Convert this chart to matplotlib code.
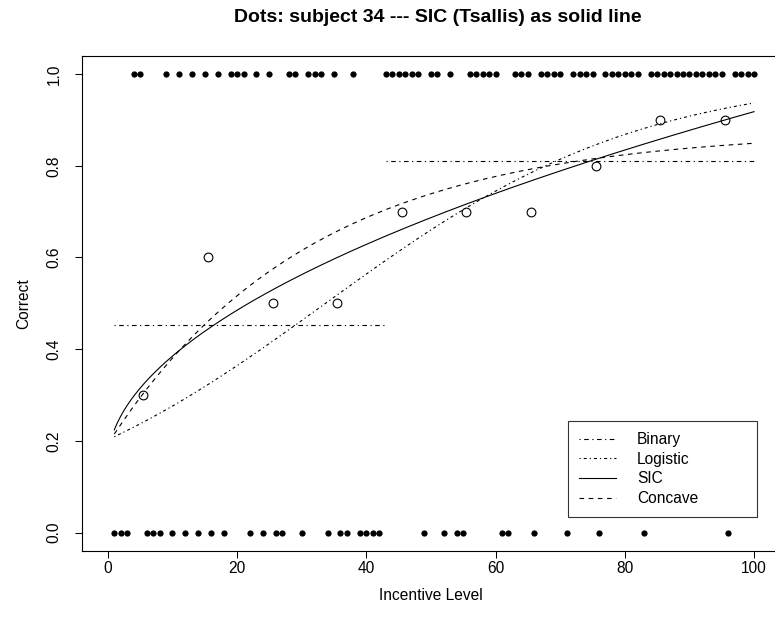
import matplotlib
matplotlib.use("Agg")
import matplotlib.pyplot as plt
import numpy as np

plt.rcParams['font.family'] = ['Liberation Sans', 'DejaVu Sans']
plt.rcParams['lines.scale_dashes'] = False

# Trial-by-trial responses (1 = correct) for incentive levels 1..100
incentive = np.arange(1, 101)
response = [
    0, 0, 0, 1, 1, 0, 0, 0, 1, 0,
    1, 0, 1, 0, 1, 0, 1, 0, 1, 1,
    1, 0, 1, 0, 1, 0, 0, 1, 1, 0,
    1, 1, 1, 0, 1, 0, 0, 1, 0, 0,
    0, 0, 1, 1, 1, 1, 1, 1, 0, 1,
    1, 0, 1, 0, 0, 1, 1, 1, 1, 1,
    0, 0, 1, 1, 1, 0, 1, 1, 1, 1,
    0, 1, 1, 1, 1, 0, 1, 1, 1, 1,
    1, 1, 0, 1, 1, 1, 1, 1, 1, 1,
    1, 1, 1, 1, 1, 0, 1, 1, 1, 1,
]

# Proportion correct in blocks of ten incentive levels
bin_centers = [5.5, 15.5, 25.5, 35.5, 45.5, 55.5, 65.5, 75.5, 85.5, 95.5]
bin_means = [0.3, 0.6, 0.5, 0.5, 0.7, 0.7, 0.7, 0.8, 0.9, 0.9]

# Model parameters
binary_threshold = 43
logistic_a, logistic_b = -1.371, 0.0407
sic_a, sic_b, sic_c = 0.1544, 0.06964, 0.52
concave_A, concave_B, concave_k = 0.8769, 0.6834, 0.032

resp = np.array(response)
x = np.linspace(1, 100, 400)
low = incentive < binary_threshold
binary_low = resp[low].mean()
binary_high = resp[~low].mean()
logistic = 1.0 / (1.0 + np.exp(-(logistic_a + logistic_b * x)))
sic = sic_a + sic_b * x ** sic_c
concave = concave_A - concave_B * np.exp(-concave_k * x)

W, H = 775, 629
fig = plt.figure(figsize=(W / 100, H / 100), dpi=100)
px_left, px_right, px_top, px_bottom = 82, 779.9, 55.7, 551
ax = fig.add_axes([px_left / W, 1 - px_bottom / H,
                   (px_right - px_left) / W, (px_bottom - px_top) / H])

lw = 0.8
pt = 0.72
ax.plot(incentive, resp, 'o', color='black', ms=4.5, mew=0, clip_on=False)
ax.plot(bin_centers, bin_means, 'o', mfc='none', mec='black', ms=6.3, mew=0.8)

binary_dash = (0, (1.2 * pt, 3.5 * pt, 4.6 * pt, 3.5 * pt))
logistic_dash = (0, (1.2 * pt, 3 * pt, 3 * pt, 3 * pt))
concave_dash = (0, (4.6 * pt, 4.6 * pt))

ax.plot([1, binary_threshold], [binary_low, binary_low], color='black', lw=lw,
        linestyle=binary_dash, label='Binary')
ax.plot([binary_threshold, 100], [binary_high, binary_high], color='black', lw=lw,
        linestyle=binary_dash)
ax.plot(x, logistic, color='black', lw=lw, linestyle=logistic_dash, label='Logistic')
ax.plot(x, sic, color='black', lw=lw, linestyle='-', label='SIC')
ax.plot(x, concave, color='black', lw=lw, linestyle=concave_dash, label='Concave')

ax.set_xlim(-4, 104)
ax.set_ylim(-0.04, 1.04)
ax.set_xticks([0, 20, 40, 60, 80, 100])
ax.set_yticks([0.0, 0.2, 0.4, 0.6, 0.8, 1.0])
ax.set_yticklabels(['0.0', '0.2', '0.4', '0.6', '0.8', '1.0'], rotation=90, va='center')
ax.tick_params(direction='out', length=5, width=0.75, labelsize=11.2, colors='black')
ax.tick_params(axis='x', pad=2.5)
ax.tick_params(axis='y', pad=9.5)
for s in ax.spines.values():
    s.set_linewidth(0.8)

ax.set_xlabel('Incentive Level', fontsize=11.2, labelpad=8)
ax.set_ylabel('Correct', fontsize=11.2, labelpad=11.5)
fig.text(438 / W, 1 - 18 / H, 'Dots: subject 34 --- SIC (Tsallis) as solid line',
         ha='center', va='center', fontsize=14, fontweight='bold')

leg_l, leg_r, leg_t, leg_b = 568, 757, 420, 517
leg = ax.legend(loc='lower left', mode='expand',
                bbox_to_anchor=(leg_l / W, 1 - leg_b / H, (leg_r - leg_l) / W, (leg_b - leg_t) / H),
                bbox_transform=fig.transFigure,
                fontsize=11.2, frameon=True, fancybox=False, edgecolor='black',
                handlelength=2.4, handletextpad=1.35, labelspacing=0.3,
                borderpad=0.7, borderaxespad=0)
leg.get_frame().set_linewidth(0.8)

fig.savefig('out.png', dpi=100)
